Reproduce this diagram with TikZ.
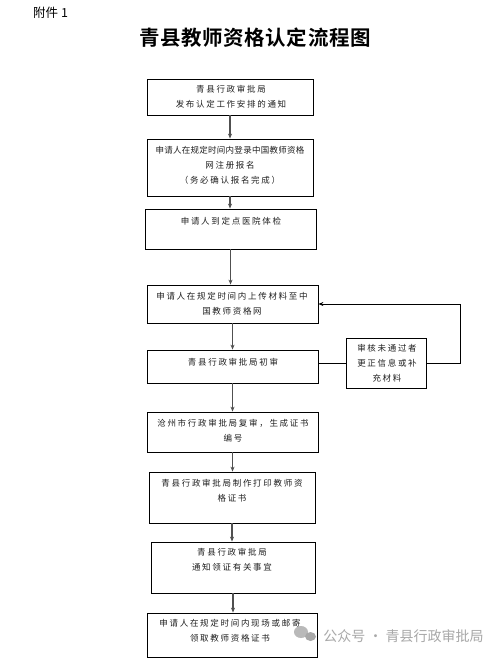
\documentclass[tikz,border=0pt]{standalone}
\usepackage{fontspec}
\setmainfont{Liberation Sans}
\usetikzlibrary{arrows.meta}
\newfontfamily\cjk{Noto Sans CJK SC}
\newfontfamily\cjkbox[LetterSpace=20]{Noto Sans CJK SC}
\newfontfamily\cjknarrow[LetterSpace=3]{Noto Sans CJK SC}
\newfontfamily\cjktitle[LetterSpace=3]{Noto Sans CJK SC Bold}
\definecolor{arrgray}{HTML}{505050}
\definecolor{txtdark}{HTML}{202020}
\definecolor{wmgray}{HTML}{A8A8A8}
\tikzset{
  box/.style={draw=black, line width=0.8pt, inner sep=0pt, rectangle},
  boxtext/.style={anchor=north, inner sep=0pt, align=center, text=txtdark,
    font=\cjkbox\fontsize{8.5}{15}\selectfont},
  arr/.style={draw=arrgray, line width=1.3pt, -{Stealth[length=5pt,width=4pt]}},
  sidearr/.style={draw=black, line width=0.8pt, -{Stealth[length=5pt,width=4pt]}},
  sideline/.style={draw=black, line width=0.8pt},
}
\begin{document}
\begin{tikzpicture}[x=1pt,y=-1pt]
\useasboundingbox[fill=white] (0,0) rectangle (503,660);

% header
\node[anchor=west, inner sep=0pt, font=\cjk\fontsize{12.5}{14}\selectfont] (att) at (33,13) {附件 1};
\node[inner sep=0pt, font=\cjktitle\fontsize{20.5}{24}\selectfont] (title) at (255,37.5) {青县教师资格认定流程图};

% boxes
\node[box, minimum width=166pt, minimum height=36pt] (b1) at (230,97) {};
\node[box, minimum width=166pt, minimum height=57pt] (b2) at (230,167.5) {};
\node[box, minimum width=171pt, minimum height=40pt] (b3) at (230.5,229) {};
\node[box, minimum width=171pt, minimum height=38pt] (b4) at (232.5,304) {};
\node[box, minimum width=171pt, minimum height=33pt] (b5) at (232.5,366.5) {};
\node[box, minimum width=80pt, minimum height=50pt] (s) at (386.5,363) {};
\node[box, minimum width=171pt, minimum height=40pt] (b6) at (232.5,432) {};
\node[box, minimum width=166pt, minimum height=51pt] (b7) at (232,497.5) {};
\node[box, minimum width=164pt, minimum height=51pt] (b8) at (233,567.5) {};
\node[box, minimum width=170pt, minimum height=44pt] (b9) at (232,635) {};

% texts
\node[boxtext] (t1) at (231,84.7) {青县行政审批局\\发布认定工作安排的通知};
\node[boxtext] (t2) at (230,145.7) {{\cjknarrow 申请人在规定时间内登录中国教师资格}\\网注册报名\\（务必确认报名完成）};
\node[boxtext] (t3) at (231,217.2) {申请人到定点医院体检};
\node[boxtext] (t4) at (232,292) {申请人在规定时间内上传材料至中\\国教师资格网};
\node[boxtext] (t5) at (233,358) {青县行政审批局初审};
\node[boxtext] (ts) at (387,343.7) {审核未通过者\\更正信息或补\\充材料};
\node[boxtext] (t6) at (233,418.7) {沧州市行政审批局复审，生成证书\\编号};
\node[boxtext] (t7) at (232,478.7) {青县行政审批局制作打印教师资\\格证书};
\node[boxtext] (t8) at (232,548.5) {青县行政审批局\\通知领证有关事宜};
\node[boxtext] (t9) at (230,618.7) {申请人在规定时间内现场或邮寄\\领取教师资格证书};

% vertical arrows
\draw[arr] (b1.south) -- (b1.south |- b2.north);
\draw[arr] (b2.south) -- (b2.south |- b3.north);
\draw[arr] (b3.south) -- (b3.south |- b4.north);
\draw[arr] (b4.south) -- (b4.south |- b5.north);
\draw[arr] (b5.south) -- (b5.south |- b6.north);
\draw[arr] (b6.south) -- (b6.south |- b7.north);
\draw[arr] (b7.south) -- (b7.south |- b8.north);
\draw[arr] (b8.south) -- (b8.south |- b9.north);

% side loop
\coordinate (r1) at (460,363);
\coordinate (r2) at (460,304);
\draw[sideline] (b5.east |- s.west) -- (s.west);
\draw[sidearr] (s.east) -- (r1) -- (r2) -- (b4.east |- r2);

% watermark
\fill[wmgray!80] (301,632) circle[x radius=7pt, y radius=6pt];
\fill[wmgray] (310.5,636.5) circle[x radius=5.5pt, y radius=4.5pt];
\node[inner sep=0pt, text=wmgray, font=\cjk\fontsize{14}{16}\selectfont] (wm) at (403.5,636) {公众号 · 青县行政审批局};
\end{tikzpicture}
\end{document}
